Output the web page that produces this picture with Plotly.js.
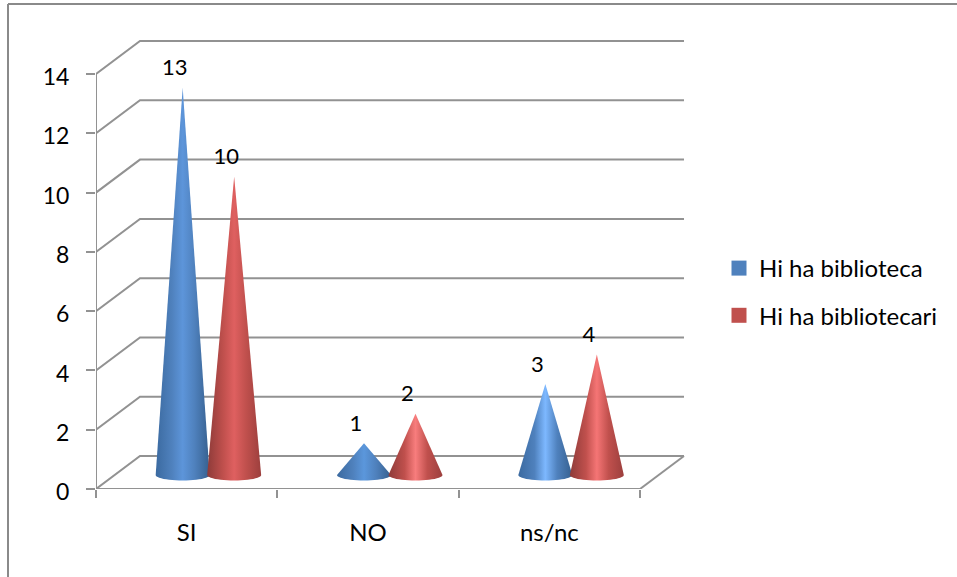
<!DOCTYPE html>
<html>
<head>
<meta charset="utf-8">
<script src="https://cdn.plot.ly/plotly-3.0.1.min.js"></script>
<style>html,body{margin:0;padding:0;background:#fff;overflow:hidden}</style>
</head>
<body>
<div id="chart" style="width:957px;height:577px"></div>
<script>
const categories = ['SI', 'NO', 'ns/nc'];
const seriesNames = ['Hi ha biblioteca', 'Hi ha bibliotecari'];
const biblioteca = [13, 1, 3];
const bibliotecari = [10, 2, 4];
const yTicks = [0, 2, 4, 6, 8, 10, 12, 14];
const swatchColors = ['#4f81bd', '#c0504d'];
const edgeLeft = ['#3b6aa0', '#8e3b39'];
const edgeRight = ['#36608f', '#9c3f3d'];
const coneLight = [['#5d95da', '#5b97dc', '#7db8ff'], ['#df6060', '#f87d7d', '#f57575']];

const L = 96, R = 685, T = 40, B = 489;
const pxX = 181.33, pxY = 29.64;
const FONT = 'Lato, Carlito, Calibri, sans-serif';
const GRID = '#929292';
const depthX = 44 / pxX, depthY = 33 / pxY;
const xMin = -0.5, xFront = 2.5;
const seriesOffset = [-4 / pxX, 47.5 / pxX];
const labelDx = -8 / pxX, labelDy = 18 / pxY;
const floorY = 16 / pxY, ellipseY = 14 / pxY;
const halfW = 27 / pxX, halfH = 5.5 / pxY;

const traces = [];

// walls and floor
const gx = [], gy = [];
yTicks.forEach(v => {
  gx.push(xMin, xMin + depthX, xFront + depthX, null);
  gy.push(v, v + depthY, v + depthY, null);
});
gx.push(xFront, xFront + depthX, null); gy.push(0, depthY, null);
gx.push(xMin, xMin, null); gy.push(0, 14, null);
gx.push(xMin, xFront); gy.push(0, 0);
traces.push({x: gx, y: gy, mode: 'lines', line: {color: GRID, width: 2},
  showlegend: false, hoverinfo: 'skip', cliponaxis: false});

// cones
[biblioteca, bibliotecari].forEach((vals, s) => {
  vals.forEach((v, i) => {
    const cx = i + seriesOffset[s];
    const xs = [cx], ys = [floorY + v];
    for (let k = 0; k <= 24; k++) {
      const a = Math.PI * k / 24;
      xs.push(cx + halfW * Math.cos(a));
      ys.push(ellipseY - halfH * Math.sin(a));
    }
    xs.push(cx); ys.push(floorY + v);
    traces.push({x: xs, y: ys, mode: 'none', fill: 'toself',
      fillgradient: {type: 'horizontal', colorscale: [
        [0, edgeLeft[s]], [0.3, swatchColors[s]], [0.5, coneLight[s][i]], [0.72, swatchColors[s]], [1, edgeRight[s]]]},
      showlegend: false, hoverinfo: 'skip'});
  });
});

// data labels
[biblioteca, bibliotecari].forEach((vals, s) => {
  traces.push({
    x: vals.map((v, i) => i + seriesOffset[s] + labelDx),
    y: vals.map(v => floorY + v + labelDy),
    text: vals.map(String), mode: 'text', textposition: 'middle center',
    textfont: {family: FONT, size: 22, color: '#000'},
    showlegend: false, hoverinfo: 'skip', cliponaxis: false});
});

// legend entries
seriesNames.forEach((n, s) => {
  traces.push({x: [null], y: [null], name: n, mode: 'markers', legendgroup: n,
    marker: {symbol: 'square', size: 15, color: swatchColors[s]}, hoverinfo: 'skip'});
});

const layout = {
  width: 957, height: 577, autosize: false,
  margin: {l: L, r: 957 - R, t: T, b: 577 - B, pad: 0},
  paper_bgcolor: '#fff', plot_bgcolor: '#fff',
  font: {family: FONT, size: 24, color: '#000'},
  showlegend: true,
  legend: {x: (719 - L) / (R - L), y: (B - 246) / (B - T), xanchor: 'left', yanchor: 'top',
    bgcolor: 'rgba(0,0,0,0)', tracegroupgap: 13, font: {family: FONT, size: 24, color: '#000'}},
  xaxis: {range: [xMin, xMin + (R - L) / pxX], tickmode: 'array', tickvals: [0, 1, 2], ticktext: categories,
    ticks: '', ticklabelstandoff: 27, showgrid: false, zeroline: false, showline: false, fixedrange: true,
    tickfont: {family: FONT, size: 24, color: '#000'},
    minor: {tickmode: 'array', tickvals: [-0.5, 0.5, 1.5, 2.5], ticks: 'outside', ticklen: 8, tickwidth: 2, tickcolor: GRID, showgrid: false}},
  yaxis: {range: [0, (B - T) / pxY], tickmode: 'array', tickvals: yTicks, ticktext: yTicks.map(String),
    ticks: 'outside', ticklen: 9, tickwidth: 2, tickcolor: GRID, ticklabelstandoff: 12, ticklabelshift: 3,
    showgrid: false, zeroline: false, showline: false, fixedrange: true,
    tickfont: {family: FONT, size: 23, color: '#000'}},
  shapes: [
    {type: 'line', xref: 'paper', yref: 'paper', x0: (8 - L) / (R - L), x1: (957 - L) / (R - L),
      y0: (B - 4) / (B - T), y1: (B - 4) / (B - T), line: {color: '#8a8a8a', width: 2}},
    {type: 'line', xref: 'paper', yref: 'paper', x0: (8 - L) / (R - L), x1: (8 - L) / (R - L),
      y0: (B - 4) / (B - T), y1: (B - 577) / (B - T), line: {color: '#8a8a8a', width: 2}}
  ]
};

Plotly.newPlot('chart', traces, layout, {displayModeBar: false, responsive: false});
</script>
</body>
</html>
